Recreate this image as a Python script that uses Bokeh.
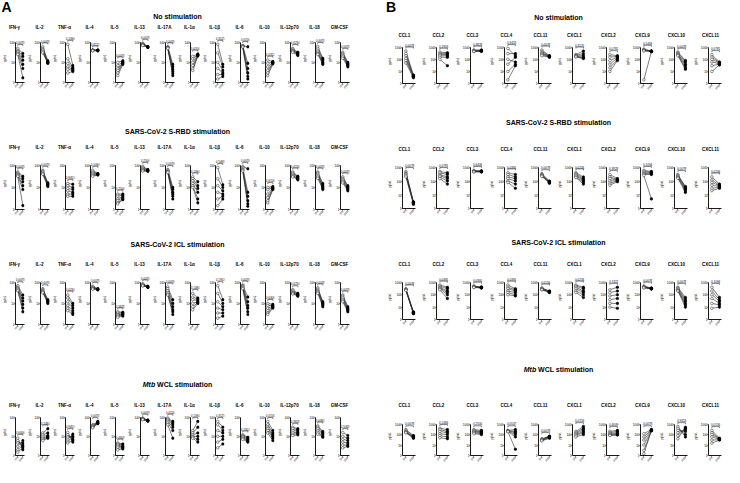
import math
from bokeh.plotting import figure
from bokeh.models import Range1d, FixedTicker, PrintfTickFormatter, ColumnDataSource, Spacer
from bokeh.layouts import row, column
from bokeh.core.properties import value
from bokeh.embed import file_html
from bokeh.resources import INLINE

FONT = "Liberation Sans"

A_CYTOKINES = ["IFN-γ", "IL-2", "TNF-α", "IL-4", "IL-5", "IL-13", "IL-17A", "IL-1α", "IL-1β",
               "IL-6", "IL-10", "IL-12p70", "IL-18", "GM-CSF"]
B_CHEMOKINES = ["CCL1", "CCL2", "CCL3", "CCL4", "CCL11", "CXCL1", "CXCL2", "CXCL9", "CXCL10", "CXCL11"]
STIMULATIONS = ["No stimulation", "SARS-CoV-2 S-RBD stimulation", "SARS-CoV-2 ICL stimulation", "Mtb WCL stimulation"]
TIMEPOINTS = ["pre", "post"]
A_TICKS = [1, 10, 100]
B_TICKS = [1, 10, 100, 1000]

# ---------------- Panel A (pg/mL) ----------------
A_NOSTIM_PRE = [[50,40,36,33,28,25],[60,50,45,40,35,30],[80,15,9,6,4.5,3],[42,41,40,40,39,38],
                [10,7,5,4,3,2.2],[90,85,80,76,72,70],[60,58,56,54,52,50],[20,15,10,7,5,4],
                [80,30,10,5,2.5,1.5],[70,65,64,62,60,58],[13,9,6,4,3,2.2],[50,45,40,38,35,32],
                [63,50,40,33,28,25],[32,28,25,22,19,16]]
A_NOSTIM_POST = [[28,20,13,8,5,1.7],[12,11,10,10,9.5,9],[7,5.5,5,4.5,4,3.5],[41,40,40,39.5,39,38.5],
                 [12,11,10,9.5,9,8],[62,60,59,58,57,56],[8,6,4.5,3.5,2.8,2.2],[26,25,24,23,22,21],
                 [8,6,4,3,2.5,2],[60,9,5,3,2,1.5],[11,10.5,10,9.5,9,8.5],[32,30,28,26,24,22],
                 [16,14,12,10,9,8],[10,9,8,7.5,7,6]]
A_NOSTIM_P = ["0.0078","0.0078","0.1094","0.8125","0.0078","0.0078","0.0078","0.0156","0.3125",
              "0.0156","0.0312","0.0234","0.0078","0.0078"]

A_SRBD_PRE = [[50,45,40,38,35,32],[60,55,50,45,42,40],[15,12,9,7,5,4],[60,50,45,40,35,32],
              [5,4,3,2.5,2,1.8],[90,80,70,65,60,55],[65,60,56,52,50,48],[30,25,20,15,12,10],
              [80,25,12,6,3,1.5],[90,80,70,65,60,55],[10,8,5,3.5,2.5,2],[50,45,40,35,32,30],
              [50,45,40,35,30,26],[30,26,23,20,18,16]]
A_SRBD_POST = [[32,25,18,12,8,1.5],[16,15,14,13,12,11],[14,10,8,6,5,4],[42,41,40,39,38,37],
               [5,4.5,4,3.5,3,2.8],[64,62,60,58,56,54],[10,8,6,5,4,3],[18,12,9,6,3,2],
               [13,10,7,5,4,3],[70,6,4,2.5,1.8,1.4],[11,10,9.5,9,8.5,8],[32,30,28,26,24,22],
               [15,13,11,10,9,8],[12,11,10,9,8,7]]
A_SRBD_P = ["0.0078","0.0078","0.9453","0.1094","0.2500","0.2500","0.0078","0.1094","0.5469",
            "0.0078","0.0156","0.0156","0.0078","0.0078"]

A_ICL_PRE = [[70,60,55,50,45,40],[50,45,40,38,35,32],[25,18,12,8,6,4.5],[65,60,56,52,50,48],
             [4,3.5,3,2.8,2.5,2.2],[85,80,76,72,70,68],[60,50,40,33,28,25],[30,20,15,10,7,5],
             [70,30,12,6,3.5,2],[75,70,65,60,55,50],[10,8,6,4.5,3.5,3],[45,40,35,32,30,28],
             [55,48,42,38,34,30],[25,22,19,16,14,12]]
A_ICL_POST = [[25,18,13,9,6,4],[15,14,13,12,11,10],[10,8,6,4.5,3.5,3],[50,48,47,46,45,44],
              [3.8,3.5,3.2,3,2.8,2.5],[65,63,62,60,59,58],[15,10,7,5,4,3],[18,16,14,12,11,10],
              [15,10,7,5,3.5,2.5],[20,12,8,6,4,3],[9,8,7.5,7,6.5,6],[30,28,26,25,24,22],
              [12,11,10,9,8,7],[7,6,5.5,5,4.5,4]]
A_ICL_P = ["0.0078","0.0078","0.0234","0.0078","0.3828","0.0078","0.0078","0.1484","0.1953",
           "0.0078","0.6406","0.0234","0.0078","0.0078"]

A_MTB_PRE = [[8,6,4.5,3,2,1.5],[15,12,10,8,7,6],[16,12,9,7,5.5,4.5],[40,38,35,33,30,28],
             [4.5,4,3.5,3,2.5,2],[90,85,80,78,76,74],[90,80,70,60,50,40],[20,15,12,10,9,8],
             [60,40,20,10,5,2.5],[12,11,10,9,8,7],[60,40,30,25,20,15],[30,25,20,16,13,11],
             [35,30,25,20,16,13],[16,10,7,5,3.5,2.5]]
A_MTB_POST = [[2,3,4.5,6,3.5,2.5],[25,15,11,10,9,8],[5,7,10,13,9,6],[60,56,52,50,48,46],
              [4,3.5,3,2.8,2.5,2.2],[70,68,66,65,64,63],[60,50,40,30,20,8],[60,30,15,10,7,5],
              [30,20,15,10,7,4],[9,8,7,6,5.5,5],[20,15,12,10,8,6],[25,22,19,16,14,12],
              [18,16,14,12,10,9],[11,8,6,4.5,3.5,3]]
A_MTB_P = ["0.6406","0.1484","0.9453","0.0078","0.4609","0.0078","0.0156","0.1094","0.3125",
           "0.1953","0.0156","0.3828","0.0391","0.5469"]

# ---------------- Panel B (pg/mL) ----------------
B_NOSTIM_PRE = [[500,300,200,120,80,50],[400,300,250,200,150,100],[600,550,500,480,460,450],
                [800,300,100,40,10,2],[600,450,350,300,250,200],[250,220,200,180,170,160],
                [250,150,80,40,20,10],[700,650,600,550,500,2],[400,350,300,260,230,200],
                [250,150,100,60,30,10]]
B_NOSTIM_POST = [[5,4.5,4,4,3.5,3],[350,300,250,200,150,30],[600,560,520,500,480,470],
                 [200,300,60,150,40,30],[200,190,180,170,160,150],[500,300,200,150,130,120],
                 [200,180,150,130,100,80],[500,480,470,460,450,440],[80,60,40,30,20,15],
                 [60,55,50,45,40,35]]
B_NOSTIM_P = ["0.0078","0.1953","0.3828","0.9453","0.0078","0.3125","0.0781","0.5469","0.0078","0.0781"]

B_SRBD_PRE = [[500,400,350,300,250,200],[500,400,300,250,200,150],[600,550,520,500,480,460],
              [400,300,200,150,100,80],[350,300,280,260,240,220],[400,350,300,250,200,180],
              [300,200,150,100,70,50],[600,500,400,350,300,250],[300,260,230,200,180,160],
              [200,120,80,50,30,20]]
B_SRBD_POST = [[3,3,2.8,2.5,2.5,2],[400,300,200,150,100,60],[550,520,500,490,480,470],
               [300,200,150,100,60,30],[100,90,85,80,75,70],[200,150,120,100,80,60],
               [150,130,120,110,100,90],[500,450,400,350,300,5],[40,35,30,25,20,15],
               [60,50,45,40,35,30]]
B_SRBD_P = ["0.0078","0.0781","0.6406","0.0391","0.0078","0.0234","0.3828","0.1094","0.0078","0.0234"]

B_ICL_PRE = [[300,280,260,250,240,220],[600,500,400,350,300,250],[500,480,450,420,400,380],
             [600,400,300,200,150,100],[350,330,300,280,260,250],[600,500,400,300,200,150],
             [250,150,80,40,20,10],[500,450,420,400,380,360],[400,350,300,250,220,200],
             [400,200,100,50,20,8]]
B_ICL_POST = [[4,4,3.5,3.5,3,3],[400,300,200,150,100,50],[420,400,380,370,360,350],
              [300,250,200,150,100,80],[200,190,180,170,160,150],[400,300,200,150,100,60],
              [400,200,100,50,20,8],[350,330,320,310,300,290],[60,40,30,20,15,10],
              [60,40,30,20,15,10]]
B_ICL_P = ["0.0078","0.0391","0.0391","0.0391","0.0156","0.0234","0.7422","0.0078","0.0078","0.1094"]

B_MTB_PRE = [[300,250,200,180,160,150],[400,300,200,120,80,50],[300,250,200,180,150,120],
             [250,230,220,210,200,190],[40,35,32,30,28,25],[200,150,120,100,80,60],
             [200,150,120,100,90,80],[120,60,30,10,3,1.5],[600,400,250,150,80,40],
             [250,150,100,60,30,15]]
B_MTB_POST = [[80,70,60,55,50,45],[300,200,150,100,60,40],[250,200,180,150,120,100],
              [300,200,150,100,60,4],[70,65,60,55,50,45],[600,400,300,200,150,100],
              [250,200,150,120,100,90],[300,280,260,250,240,230],[60,100,200,300,400,500],
              [45,40,38,35,32,30]]
B_MTB_P = ["0.0078","0.1484","0.2500","0.0547","0.0078","0.0156","0.4609","0.0078","0.9453","0.0156"]

A_DATA = [(A_NOSTIM_PRE, A_NOSTIM_POST, A_NOSTIM_P), (A_SRBD_PRE, A_SRBD_POST, A_SRBD_P),
          (A_ICL_PRE, A_ICL_POST, A_ICL_P), (A_MTB_PRE, A_MTB_POST, A_MTB_P)]
B_DATA = [(B_NOSTIM_PRE, B_NOSTIM_POST, B_NOSTIM_P), (B_SRBD_PRE, B_SRBD_POST, B_SRBD_P),
          (B_ICL_PRE, B_ICL_POST, B_ICL_P), (B_MTB_PRE, B_MTB_POST, B_MTB_P)]

# ---------------- layout geometry (pixels) ----------------
# per row: header height, title y, names y, bracket space, axis height, bottom border
A_GEOM = [(34, 16, 27, 8, 41, 9), (65, 39, 55, 8, 45, 9), (55, 25, 45, 8, 43, 9), (75, 50, 71, 8, 40, 8)]
B_GEOM = [(39, 17, 35, 8, 37, 9), (66, 29, 56, 8, 42, 9), (56, 24, 46, 8, 38, 9), (87, 40, 76, 8, 33, 8)]
A_PANEL = dict(bl=10, fw=14, br=1, fpre=0.25, fpost=0.82, lo=1, hi=100, ticks=A_TICKS)
B_PANEL = dict(bl=12, fw=18, br=4, fpre=0.26, fpost=0.84, lo=1, hi=1000, ticks=B_TICKS)
A_TITLE_X = 177
B_TITLE_X = 173
A_NAME_DX = 14
B_NAME_DX = 19
A_PITCH = 25
B_PITCH = 34
TICK_FONT = "3px"


def header(width, height, items):
    p = figure(width=width, height=height, x_range=Range1d(0, width), y_range=Range1d(height, 0),
               x_axis_type=None, y_axis_type=None, toolbar_location=None, output_backend="svg",
               min_border=0)
    p.outline_line_color = None
    for (x, y, t, size, style, align) in items:
        p.text(x=[x], y=[y], text=[t], text_font=value(FONT), text_font_size=size,
               text_font_style=style, text_align=align, text_baseline="middle", text_color="black")
    return p


def title_items(title, cx, y):
    if title.startswith("Mtb "):
        rest = title[4:]
        return [(cx - 22.3, y, "Mtb", "7px", "bold italic", "right"),
                (cx - 20.4, y, rest, "7px", "bold", "left")]
    return [(cx, y, title, "7px", "bold", "center")]


def panel(pre, post, pval, ext_px, axis_px, bb, bl, fw, br, fpre, fpost, lo, hi, ticks):
    dec = math.log10(hi / lo)
    ppd = axis_px / dec

    def f(px):
        return 10 ** (px / ppd)

    top = hi * f(ext_px)
    span = 1.0 / (fpost - fpre)
    xs0 = -fpre * span
    p = figure(width=bl + fw + br, height=ext_px + axis_px + bb,
               x_range=Range1d(xs0, xs0 + span), y_range=Range1d(lo, top), y_axis_type="log",
               toolbar_location=None, output_backend="svg",
               min_border_left=bl, min_border_right=br, min_border_top=0, min_border_bottom=bb)
    p.grid.visible = False
    p.outline_line_color = None
    p.background_fill_color = None
    p.border_fill_color = None
    p.xaxis.ticker = FixedTicker(ticks=[0, 1])
    p.xaxis.major_label_overrides = {0: TIMEPOINTS[0], 1: TIMEPOINTS[1]}
    p.xaxis.major_label_orientation = math.pi / 4
    p.yaxis.ticker = FixedTicker(ticks=ticks, minor_ticks=[])
    p.yaxis.formatter = PrintfTickFormatter(format="%d")
    p.yaxis.bounds = (lo, hi)
    p.yaxis.axis_label = "pg/mL"
    p.yaxis.axis_label_text_font = FONT
    p.yaxis.axis_label_text_font_size = "2.6px"
    p.yaxis.axis_label_text_font_style = "normal"
    p.yaxis.axis_label_text_color = "black"
    p.yaxis.axis_label_standoff = 0
    for ax in (p.xaxis[0], p.yaxis[0]):
        ax.axis_line_width = 0.9
        ax.axis_line_color = "black"
        ax.major_tick_line_width = 0.6
        ax.major_tick_line_color = "black"
        ax.major_tick_out = 1
        ax.major_tick_in = 0
        ax.minor_tick_line_color = None
        ax.major_label_text_font = FONT
        ax.major_label_text_font_size = TICK_FONT
        ax.major_label_standoff = 0
        ax.major_label_text_color = "black"
    n = len(pre)
    src = ColumnDataSource(dict(xs=[[0, 1] for _ in range(n)], ys=[[a, b] for a, b in zip(pre, post)]))
    p.multi_line("xs", "ys", source=src, line_color="#2a2a2a", line_width=0.6)
    p.scatter(x=[0] * n, y=pre, marker="circle", size=2.6, fill_color="white", line_color="#222222", line_width=0.5)
    p.scatter(x=[1] * n, y=post, marker="circle", size=2.6, fill_color="black", line_color="black", line_width=0.5)
    m = max(max(pre), max(post))
    by = min(m * f(4), top / f(3.5))
    p.multi_line(xs=[[0, 0, 1, 1]], ys=[[by / f(1.5), by, by, by / f(1.5)]], line_color="black", line_width=0.5)
    p.text(x=[0.5], y=[by * f(0.6)], text=[pval], text_font=value(FONT), text_font_size=TICK_FONT,
           text_align="center", text_baseline="bottom", text_color="black")
    return p


def block(names, data, geom, cfg, pitch, title_x, name_dx, letter, last_width=None):
    widths = [pitch] * len(names)
    if last_width is not None:
        widths[-1] = last_width
    total = sum(widths)
    items_col = []
    for r, ((pre_l, post_l, p_l), (hh, ty, ny, ext, axh, bb)) in enumerate(zip(data, geom)):
        items = title_items(STIMULATIONS[r], title_x, ty)
        if r == 0:
            items.append((1 if letter == "A" else 0.5, 6, letter, "14px", "bold", "left"))
        for i, nm in enumerate(names):
            items.append((i * pitch + name_dx, ny, nm, "4.5px", "bold", "center"))
        items_col.append(header(total, hh, items))
        panels = []
        for i in range(len(names)):
            c = dict(cfg)
            if widths[i] != pitch:
                c["br"] = widths[i] - c["bl"] - c["fw"]
            panels.append(panel(pre_l[i], post_l[i], p_l[i], ext, axh, bb, **c))
        items_col.append(row(*panels, spacing=0))
    return column(*items_col, spacing=0), total


colA, wA = block(A_CYTOKINES, A_DATA, A_GEOM, A_PANEL, A_PITCH, A_TITLE_X, A_NAME_DX, "A")
colB, wB = block(B_CHEMOKINES, B_DATA, B_GEOM, B_PANEL, B_PITCH, B_TITLE_X, B_NAME_DX, "B", last_width=32)
gap = Spacer(width=385 - wA, height=10)
layout = row(colA, gap, colB, spacing=0)

with open("out.html", "w") as fh:
    fh.write(file_html(layout, INLINE))
